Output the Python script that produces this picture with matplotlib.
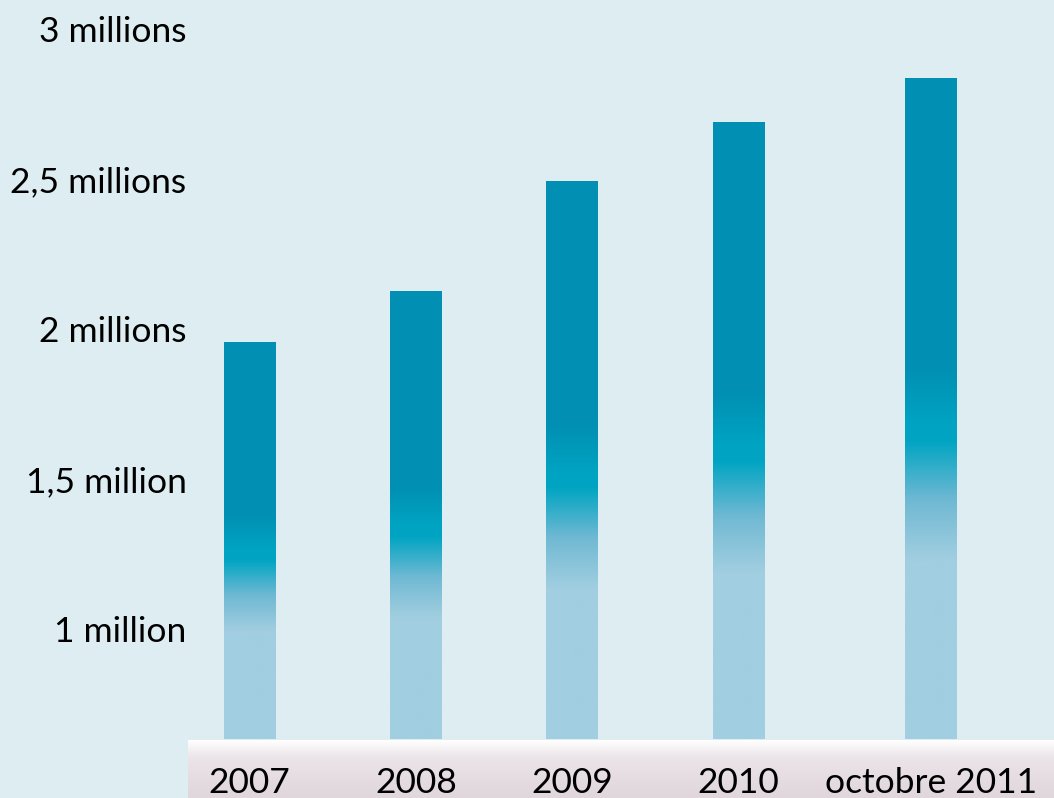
import matplotlib
matplotlib.use('Agg')
import matplotlib.pyplot as plt
import numpy as np
from matplotlib.colors import LinearSegmentedColormap
from matplotlib.transforms import blended_transform_factory, ScaledTranslation

# values (millions of members)
years = ['2007', '2008', '2009', '2010', 'octobre 2011']
members = [1.967, 2.137, 2.503, 2.70, 2.847]
tick_values = [1.0, 1.5, 2.0, 2.5, 3.0]
tick_labels = ['1 million', '1,5 million', '2 millions', '2,5 millions', '3 millions']

plt.rcParams['font.family'] = ['Lato', 'DejaVu Sans']

BG = '#deedf2'
W, H = 1054, 798
fig = plt.figure(figsize=(W / 100, H / 100), dpi=100, facecolor=BG)

# bottom band behind the category labels
band = fig.add_axes([188 / W, 0, (W - 188) / W, 58 / H], zorder=0)
band_cmap = LinearSegmentedColormap.from_list(
    'band', [(0, '#ffffff'), (0.3, '#ebe4e8'), (1, '#e0d6dc')])
band.imshow(np.linspace(0, 1, 100).reshape(-1, 1), cmap=band_cmap, aspect='auto',
            extent=[0, 1, 0, 1])
band.set_axis_off()

ax = fig.add_axes([188 / W, 59 / H, (W - 188) / W, 739 / H], zorder=1)
ax.patch.set_visible(False)

# irregular spacing of the bars, in units of the first gap
pos = [0, 1, 1.937, 2.937, 4.093]
width = 0.309
ymin, ymax = 0.643, 3.107

bar_cmap = LinearSegmentedColormap.from_list(
    'bars', [(0, '#a1cee0'), (0.27, '#a1cee0'), (0.36, '#70b9d3'),
             (0.45, '#00a5c3'), (0.48, '#00a3c2'), (0.56, '#0190b3'), (1, '#0190b3')])
grad = np.linspace(0, 1, 256).reshape(-1, 1)

bars = ax.bar(pos, [m - ymin for m in members], width=width, bottom=ymin,
              color='none', edgecolor='none')
for b in bars:
    x0, y0 = b.get_x(), b.get_y()
    im = ax.imshow(grad, cmap=bar_cmap, origin='lower', aspect='auto',
                   extent=[x0, x0 + b.get_width(), y0, y0 + b.get_height()])
    im.set_clip_path(b)

ax.set_xlim(-0.369, 4.832)
ax.set_ylim(ymin, ymax)

ax.set_yticks(tick_values, tick_labels, fontsize=25.5)
ax.tick_params(axis='y', length=0, pad=1)
shift = ScaledTranslation(0, 3 / 100, fig.dpi_scale_trans)
for lab in ax.get_yticklabels():
    lab.set_transform(lab.get_transform() + shift)
ax.set_xticks([])
for s in ax.spines.values():
    s.set_visible(False)

trans = blended_transform_factory(ax.transData, fig.transFigure)
for p, y in zip(pos, years):
    ax.text(p, 5 / H, y, transform=trans, ha='center', va='baseline',
            fontsize=25.5, clip_on=False)

fig.savefig('out.png', dpi=100, facecolor=BG)
